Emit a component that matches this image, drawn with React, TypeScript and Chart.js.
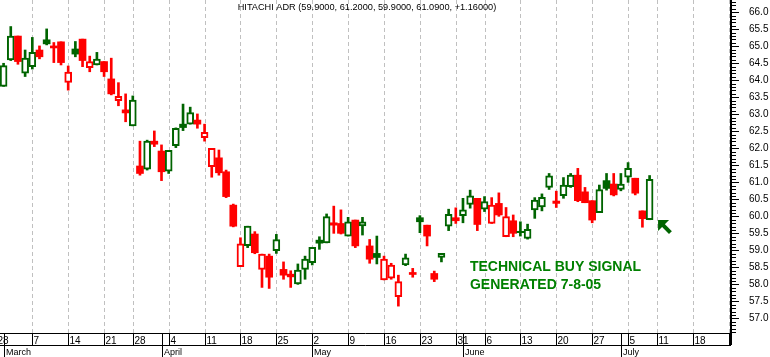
import React, { useEffect, useRef } from 'react';
import { Chart, registerables } from 'chart.js';

Chart.register(...registerables);

// ---------------- data ----------------
// trading-day index of the first candle (Feb 28, 2005 = 0)
const FIRST_DAY_INDEX = 1;
const PREV_CLOSE = 64.0;

const OPEN = [
  63.82, 64.60, 65.30, 64.21, 64.40, 64.89, 65.19, 65.01, 65.13, 63.94,
  64.92, 65.21, 64.37, 64.45, 64.55, 64.04, 63.40, 63.13, 62.66, 61.48,
  61.39, 62.21, 61.92, 61.33, 62.08, 62.71, 62.71, 62.83, 62.31, 61.46,
  61.72, 61.31, 60.33, 58.52, 59.14, 59.48, 58.44, 58.83, 58.99, 58.44,
  58.30, 58.01, 58.44, 58.64, 59.30, 59.22, 59.81, 59.79, 59.42, 59.89,
  59.72, 59.13, 58.91, 58.13, 58.18, 57.64, 58.57, 58.35, 59.96, 59.74,
  58.32, 58.79, 59.71, 59.96, 60.02, 60.35, 60.53, 60.21, 59.79, 60.38,
  59.40, 59.87, 59.56, 59.35, 60.19, 60.28, 60.85, 60.45, 60.61, 60.87,
  61.21, 60.72, 60.46, 60.11, 61.05, 60.95, 60.79, 61.15, 61.12, 60.16,
  59.90,
];
const HIGH = [
  64.50, 65.58, 65.30, 64.89, 65.26, 65.01, 65.51, 65.11, 65.13, 64.42,
  65.14, 65.21, 64.71, 64.82, 64.55, 64.65, 63.93, 63.60, 63.54, 62.21,
  62.24, 62.51, 62.10, 61.94, 62.60, 63.30, 63.21, 63.01, 62.71, 62.00,
  61.95, 61.36, 60.36, 59.37, 59.71, 59.55, 58.89, 58.89, 59.47, 58.66,
  58.40, 58.60, 58.83, 59.09, 59.40, 60.07, 60.30, 60.19, 59.97, 59.89,
  59.97, 59.32, 59.42, 58.83, 58.62, 58.27, 58.89, 58.47, 60.02, 59.74,
  58.39, 58.91, 60.21, 60.25, 60.53, 60.77, 60.53, 60.58, 60.55, 60.69,
  60.26, 60.04, 59.84, 59.77, 60.55, 60.66, 61.26, 60.74, 61.14, 61.26,
  61.41, 60.85, 60.46, 60.92, 61.26, 61.26, 61.26, 61.58, 61.12, 60.16,
  61.20,
];
const LOW = [
  63.82, 64.58, 64.47, 64.11, 64.33, 64.63, 65.04, 64.52, 64.45, 63.71,
  64.69, 64.40, 64.25, 64.45, 64.11, 63.57, 63.25, 62.78, 62.66, 61.21,
  61.36, 62.05, 61.05, 61.26, 62.02, 62.52, 62.71, 62.59, 62.21, 61.15,
  61.21, 60.55, 59.69, 58.52, 59.08, 58.90, 57.91, 57.88, 58.91, 58.15,
  57.91, 58.00, 58.15, 58.57, 59.03, 59.22, 59.50, 59.48, 59.42, 59.08,
  59.45, 58.62, 58.60, 58.13, 58.15, 57.36, 58.55, 58.21, 59.52, 59.13,
  58.08, 58.66, 59.58, 59.79, 59.81, 60.24, 59.58, 60.14, 59.79, 60.00,
  59.40, 59.40, 59.42, 59.33, 59.94, 60.16, 60.79, 60.26, 60.53, 60.85,
  60.43, 60.40, 59.81, 60.11, 60.77, 60.60, 60.75, 61.00, 60.63, 59.68,
  59.90,
];
const CLOSE = [
  64.43, 65.30, 64.55, 64.65, 64.82, 64.69, 65.07, 64.95, 64.52, 64.24,
  64.77, 64.58, 64.55, 64.62, 64.25, 63.60, 63.53, 63.04, 63.42, 61.26,
  62.21, 62.12, 61.31, 61.94, 62.59, 62.61, 63.05, 62.71, 62.47, 62.00,
  61.28, 60.58, 59.71, 59.19, 59.71, 58.93, 58.89, 58.21, 59.32, 58.27,
  58.22, 58.42, 58.74, 59.09, 59.21, 59.99, 59.74, 59.50, 59.84, 59.13,
  59.84, 58.74, 58.79, 58.74, 58.57, 58.08, 58.78, 58.29, 59.84, 59.42,
  58.15, 58.91, 60.06, 59.87, 60.19, 60.60, 59.76, 60.43, 60.33, 60.04,
  59.99, 59.50, 59.52, 59.62, 60.48, 60.56, 61.19, 60.38, 60.92, 61.21,
  60.46, 60.40, 59.89, 60.79, 60.82, 60.63, 60.95, 61.41, 60.68, 59.93,
  61.09,
];

const WEEK_TICK_INDEX = [0, 5, 10, 15, 19, 24, 29, 34, 39, 44, 49, 54, 59, 64, 68, 73, 78, 83, 88, 92, 97, 102];
const WEEK_TICK_LABELS = ['28', '7', '14', '21', '28', '4', '11', '18', '25', '2', '9', '16', '23', '31', '6', '13', '20', '27', '5', '11', '18', '25'];
const MONTH_TICK_INDEX = [1, 23, 44, 65, 87];
const MONTH_LABELS = ['March', 'April', 'May', 'June', 'July'];

const TITLE = 'HITACHI ADR (59.9000, 61.2000, 59.9000, 61.0900, +1.16000)';
const NOTE_LINES = ['TECHNICAL BUY SIGNAL', 'GENERATED 7-8-05'];
const NOTE_AT = { x: 65.97, y: 58.39 };
const ARROW_TIP = { x: 92.18, y: 59.89 };
const ARROW_TAIL = { x: 93.9, y: 59.52 };

const X_MIN = 0.5;
const X_MAX = 102.34;
const Y_MIN = 56.57;
const Y_MAX = 66.36;

// ---------------- styles ----------------
const UP_COLOR = '#006400';
const DOWN_COLOR = '#ff0000';
const NOTE_COLOR = '#008000';
const FONT = "'Liberation Sans', Arial, sans-serif";

const overlay = {
  id: 'overlay',
  beforeDatasetsDraw(chart: any) {
    const { ctx, chartArea: a, scales } = chart;
    const x = scales.x;
    ctx.save();
    ctx.strokeStyle = '#c0c0c0';
    ctx.lineWidth = 1;
    ctx.setLineDash([4, 3]);
    for (const i of WEEK_TICK_INDEX) {
      const px = Math.round(x.getPixelForValue(i)) + 0.5;
      if (px < a.left || px > a.right) continue;
      ctx.beginPath();
      ctx.moveTo(px, a.top);
      ctx.lineTo(px, a.bottom);
      ctx.stroke();
    }
    ctx.restore();
  },
  afterDraw(chart: any) {
    const { ctx, chartArea: a, scales } = chart;
    const x = scales.x;
    const y = scales.y;
    ctx.save();

    // minor ticks on the price axis
    ctx.strokeStyle = '#000';
    ctx.lineWidth = 1;
    for (let k = Math.ceil(Y_MIN * 10); k <= Math.floor(Y_MAX * 10); k++) {
      if (k % 5 === 0) continue;
      const py = Math.round(y.getPixelForValue(k / 10)) + 0.5;
      ctx.beginPath();
      ctx.moveTo(a.right, py);
      ctx.lineTo(a.right + 5, py);
      ctx.stroke();
    }

    // bottom date axis
    const rowTop = a.bottom;
    const rowMid = a.bottom + 12;
    const rowBot = chart.height;
    ctx.save();
    ctx.beginPath();
    ctx.rect(0, rowTop, a.right, rowBot - rowTop);
    ctx.clip();
    ctx.beginPath();
    ctx.moveTo(0, rowTop + 0.5);
    ctx.lineTo(a.right, rowTop + 0.5);
    ctx.moveTo(0, rowMid + 0.5);
    ctx.lineTo(a.right, rowMid + 0.5);
    ctx.stroke();
    ctx.fillStyle = '#000';
    ctx.textAlign = 'left';
    ctx.textBaseline = 'alphabetic';
    ctx.font = `10px ${FONT}`;
    WEEK_TICK_INDEX.forEach((i, k) => {
      const px = Math.round(x.getPixelForValue(i));
      ctx.beginPath();
      ctx.moveTo(px + 0.5, rowTop);
      ctx.lineTo(px + 0.5, rowMid);
      ctx.stroke();
      ctx.fillText(WEEK_TICK_LABELS[k], px + 1.5, rowTop + 10.5);
    });
    ctx.font = `9px ${FONT}`;
    MONTH_TICK_INDEX.forEach((i, k) => {
      const px = Math.round(x.getPixelForValue(i));
      ctx.beginPath();
      ctx.moveTo(px + 0.5, rowTop);
      ctx.lineTo(px + 0.5, rowBot);
      ctx.stroke();
      ctx.fillText(MONTH_LABELS[k], px + 2, rowBot - 2);
    });
    ctx.restore();

    // axis line continues down through the date row
    ctx.fillStyle = '#000';
    ctx.fillRect(a.right - 1, rowTop, 2, 12);

    // title
    ctx.fillStyle = '#000';
    ctx.font = `9.2px ${FONT}`;
    ctx.textAlign = 'center';
    ctx.textBaseline = 'alphabetic';
    ctx.fillText(TITLE, (a.left + a.right) / 2 + 1.5, a.top + 10);

    // note
    ctx.fillStyle = NOTE_COLOR;
    ctx.font = `bold 14px ${FONT}`;
    ctx.textAlign = 'left';
    const nx = x.getPixelForValue(NOTE_AT.x);
    const ny = y.getPixelForValue(NOTE_AT.y);
    NOTE_LINES.forEach((t, k) => ctx.fillText(t, nx, ny + k * 18));

    // arrow
    const tx = x.getPixelForValue(ARROW_TIP.x);
    const ty = y.getPixelForValue(ARROW_TIP.y);
    const ex = x.getPixelForValue(ARROW_TAIL.x);
    const ey = y.getPixelForValue(ARROW_TAIL.y);
    ctx.fillStyle = UP_COLOR;
    ctx.strokeStyle = UP_COLOR;
    ctx.beginPath();
    ctx.moveTo(tx, ty);
    ctx.lineTo(tx + 11, ty);
    ctx.lineTo(tx, ty + 11);
    ctx.closePath();
    ctx.fill();
    ctx.lineWidth = 4;
    ctx.beginPath();
    ctx.moveTo(tx + 4, ty + 4);
    ctx.lineTo(ex, ey);
    ctx.stroke();

    ctx.restore();
  },
};

export default function App() {
  const ref = useRef<HTMLCanvasElement>(null);

  useEffect(() => {
    const canvas = ref.current;
    if (!canvas) return;
    const xs = OPEN.map((_, k) => FIRST_DAY_INDEX + k);
    const colors = CLOSE.map((c, k) =>
      c >= (k === 0 ? PREV_CLOSE : CLOSE[k - 1]) ? UP_COLOR : DOWN_COLOR
    );
    const hollow = CLOSE.map((c, k) => c > OPEN[k]);

    const chart = new Chart(canvas, {
      type: 'bar',
      data: {
        datasets: [
          {
            label: 'body',
            data: xs.map((x, k) => ({ x, y: [OPEN[k], CLOSE[k]] })) as any,
            backgroundColor: hollow.map((h, k) => (h ? '#ffffff' : colors[k])),
            borderColor: colors,
            borderWidth: hollow.map((h) => (h ? 2 : 0)),
            borderSkipped: false,
            barThickness: 7,
            grouped: false,
            order: 0,
          } as any,
          {
            label: 'wick',
            data: xs.map((x, k) => ({ x, y: [LOW[k], HIGH[k]] })) as any,
            backgroundColor: colors,
            borderWidth: 0,
            barThickness: 2,
            grouped: false,
            order: 1,
          } as any,
        ],
      },
      options: {
        responsive: false,
        maintainAspectRatio: false,
        animation: false,
        devicePixelRatio: 1,
        events: [],
        layout: { padding: { left: 0, top: 0, right: 0, bottom: 24 } },
        plugins: {
          legend: { display: false },
          tooltip: { enabled: false },
          title: { display: false },
        },
        scales: {
          x: {
            type: 'linear',
            min: X_MIN,
            max: X_MAX,
            offset: false,
            display: false,
          },
          y: {
            type: 'linear',
            position: 'right',
            min: Y_MIN,
            max: Y_MAX,
            beginAtZero: false,
            grid: {
              display: true,
              drawOnChartArea: false,
              drawTicks: true,
              tickLength: 8,
              tickColor: '#000',
              tickWidth: 1,
            },
            border: { display: true, color: '#000', width: 2 },
            ticks: {
              stepSize: 0.5,
              includeBounds: false,
              autoSkip: false,
              padding: 10,
              color: '#000',
              font: { family: FONT, size: 10 },
              callback: (v: any) => Number(v).toFixed(1),
            },
            afterFit: (s: any) => {
              s.width = 39;
              s.paddingTop = 0;
              s.paddingBottom = 0;
            },
          } as any,
        },
      } as any,
      plugins: [overlay],
    });
    return () => chart.destroy();
  }, []);

  return (
    <div style={{ position: 'fixed', left: 0, top: 0, width: 770, height: 357, background: '#fff' }}>
      <canvas ref={ref} width={770} height={357} style={{ display: 'block', width: 770, height: 357 }} />
    </div>
  );
}
